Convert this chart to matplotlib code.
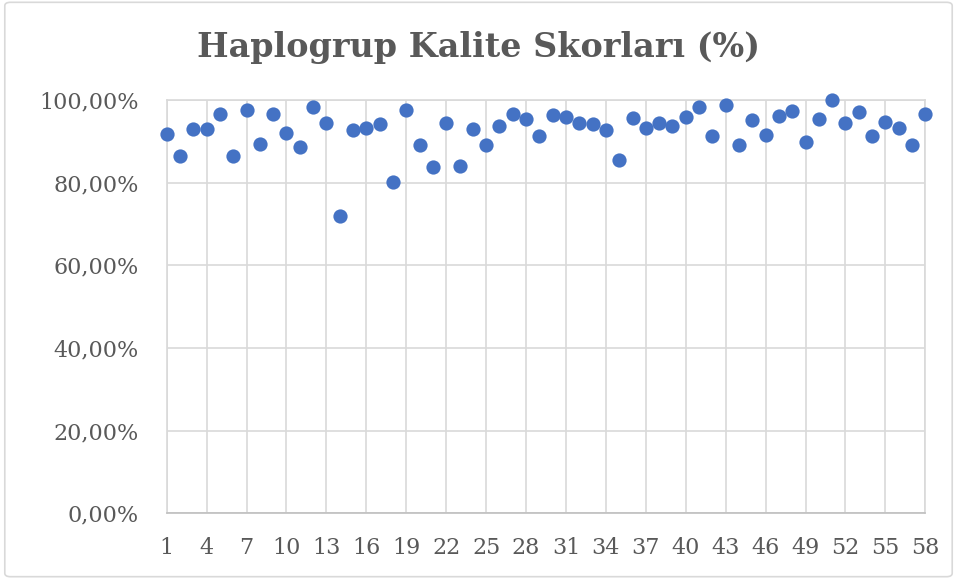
import matplotlib
matplotlib.use("Agg")
import matplotlib.pyplot as plt
from matplotlib.patches import FancyBboxPatch
from matplotlib.ticker import FuncFormatter

# sample numbers 1..58 and their quality scores (%)
samples = list(range(1, 59))
scores = [
    91.7, 86.4, 92.9, 92.9, 96.7, 86.4, 97.6, 89.4, 96.6, 91.9,
    88.7, 98.3, 94.5, 72.0, 92.7, 93.2, 94.1, 80.1, 97.6, 89.0,
    83.8, 94.5, 84.0, 93.1, 89.0, 93.7, 96.7, 95.3, 91.3, 96.4,
    95.9, 94.4, 94.2, 92.7, 85.4, 95.6, 93.3, 94.5, 93.7, 95.9,
    98.3, 91.4, 98.7, 89.0, 95.1, 91.6, 96.1, 97.4, 89.9, 95.3,
    100.0, 94.5, 97.0, 91.2, 94.7, 93.3, 89.2, 96.6,
]
x_ticks = list(range(1, 59, 3))
y_ticks = [0, 20, 40, 60, 80, 100]

plt.rcParams['font.family'] = ['DejaVu Serif']
text_color = '#595959'

fig = plt.figure(figsize=(9.57, 5.79), dpi=100)
ax = fig.add_axes([0.1742, 0.1133, 0.7927, 0.714])

# outer chart border
fig.patches.append(FancyBboxPatch(
    (0.005, 0.004), 0.99, 0.992, boxstyle="round,pad=0,rounding_size=0.006",
    transform=fig.transFigure, fill=False, edgecolor='#D9D9D9', linewidth=1.2))

ax.scatter(samples, scores, s=105, color='#4472C4', zorder=3, linewidths=0,
           clip_on=False)

ax.set_xlim(1, 58)
ax.set_ylim(0, 100)
ax.set_xticks(x_ticks)
ax.set_yticks(y_ticks)
ax.yaxis.set_major_formatter(FuncFormatter(lambda v, p: f"{v:.2f}%".replace('.', ',')))

ax.grid(True, color='#D9D9D9', linewidth=1.2, zorder=0)
ax.set_axisbelow(True)
for side in ['top', 'right', 'left']:
    ax.spines[side].set_color('#D9D9D9')
    ax.spines[side].set_linewidth(1.2)
ax.spines['bottom'].set_color('#BFBFBF')
ax.spines['bottom'].set_linewidth(1.2)

ax.tick_params(axis='both', length=0, labelsize=16, colors=text_color)
ax.tick_params(axis='y', pad=20)
ax.tick_params(axis='x', pad=17)

fig.text(0.5, 0.9016, "Haplogrup Kalite Skorları (%)", ha='center', va='baseline',
         fontsize=24, fontweight='bold', color=text_color)

fig.savefig("out.png", dpi=100)
